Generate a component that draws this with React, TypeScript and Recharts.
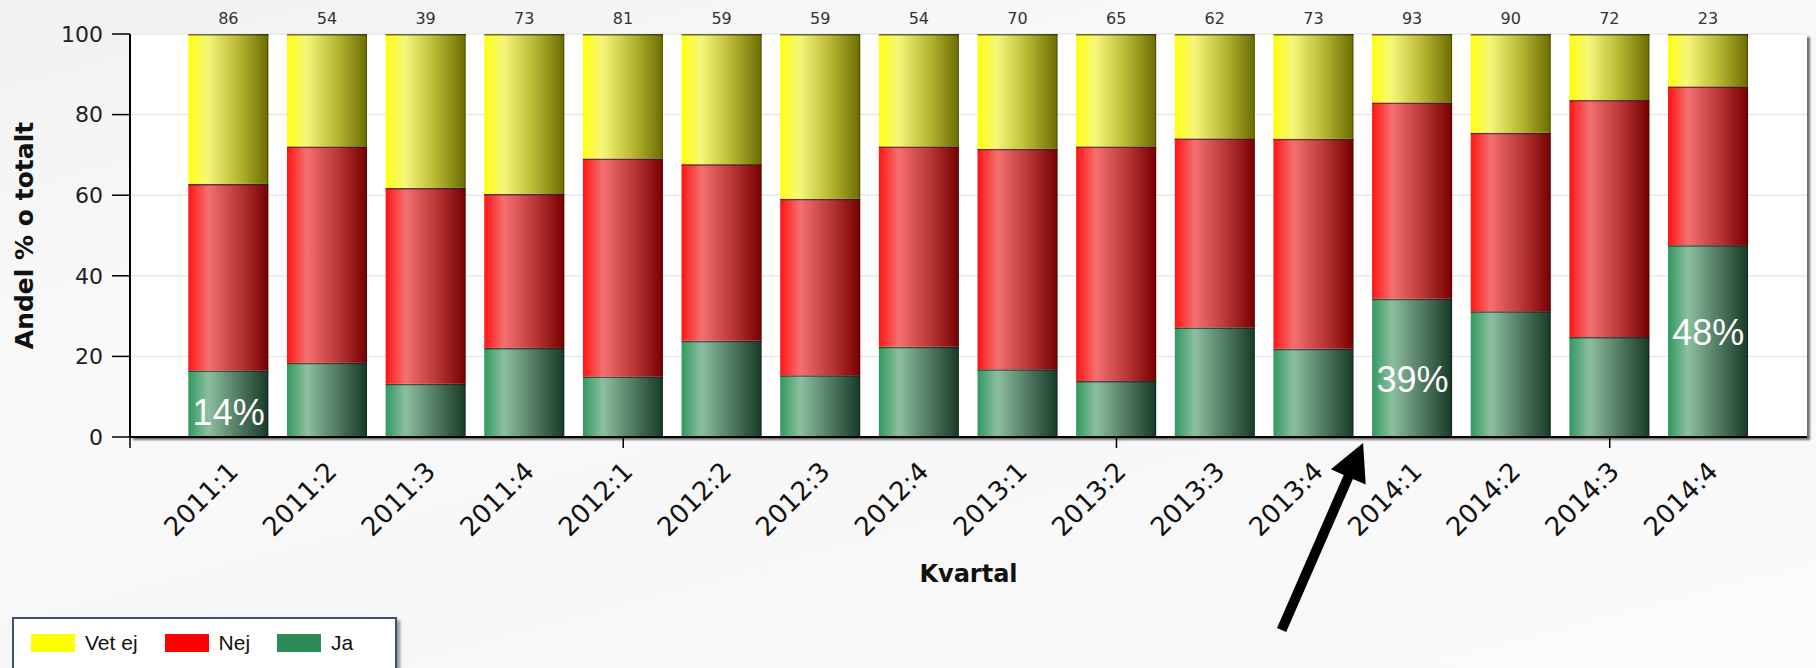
import React from 'react';
import { BarChart, Bar, XAxis, YAxis, CartesianGrid, LabelList, ReferenceDot, Label } from 'recharts';

// ---- data ----
const quarters = ['2011:1', '2011:2', '2011:3', '2011:4', '2012:1', '2012:2', '2012:3', '2012:4', '2013:1', '2013:2', '2013:3', '2013:4', '2014:1', '2014:2', '2014:3', '2014:4'];
const positions = [1, 2, 3, 4, 5, 6, 7, 8, 9, 10, 11, 12, 13, 14, 15, 16];
const jaValues = [16.5, 18.4, 13.2, 22.1, 15.0, 23.9, 15.3, 22.4, 16.8, 13.9, 27.2, 21.9, 34.3, 31.2, 24.8, 47.6];
const nejValues = [46.3, 53.7, 48.6, 38.2, 54.1, 43.8, 43.8, 49.7, 54.7, 58.2, 46.9, 52.1, 48.7, 44.3, 58.8, 39.4];
const vetEjValues = [37.2, 27.9, 38.2, 39.7, 30.9, 32.3, 40.9, 27.9, 28.5, 27.9, 25.9, 26.0, 17.0, 24.5, 16.4, 13.0];
const counts = [86, 54, 39, 73, 81, 59, 59, 54, 70, 65, 62, 73, 93, 90, 72, 23];
const yTicks = [0, 20, 40, 60, 80, 100];
const xTicks = [0, 1, 2, 3, 4, 5, 6, 7, 8, 9, 10, 11, 12, 13, 14, 15, 16];
const xDomain = [0, 17];
const annotationPos = [1, 13, 16];
const annotationText = ['14%', '39%', '48%'];
const annotationY = [2.9, 11.1, 22.8];
const arrowTarget = 12.5; // between 2013:4 and 2014:1
const seriesNames = ['Vet ej', 'Nej', 'Ja'];
const legendColors = ['#ffff00', '#ff0000', '#2e8b57'];

const data = quarters.map((q, i) => ({
  q,
  pos: positions[i],
  ja: jaValues[i],
  nej: nejValues[i],
  vet: vetEjValues[i],
  n: counts[i],
}));

const FONT = "'DejaVu Sans', Verdana, sans-serif";

const makeShape = (gradId: string) => (props: any) => {
  const { x, y, width, height } = props;
  if (!height || height <= 0) return <g />;
  return (
    <g>
      <rect x={x} y={y} width={width} height={height} fill={`url(#${gradId})`} />
      <line x1={x} x2={x + width} y1={y + 0.75} y2={y + 0.75} stroke="rgba(30,30,30,0.65)" strokeWidth={1.5} />
      <line x1={x + width - 0.5} x2={x + width - 0.5} y1={y} y2={y + height} stroke="rgba(0,0,0,0.3)" strokeWidth={1} />
    </g>
  );
};

const XTick = (props: any) => {
  const { x, y, payload } = props;
  const v = payload.value;
  return (
    <g>
      {v % 5 === 0 && <line x1={x} x2={x} y1={y} y2={y + 11} stroke="#000" strokeWidth={1.5} />}
      {v >= 1 && (
        <text
          transform={`translate(${x + 11},${y + 36}) rotate(-45)`}
          textAnchor="end"
          fontSize={26}
          fontFamily={FONT}
          fill="#111"
        >
          {quarters[v - 1]}
        </text>
      )}
    </g>
  );
};

const AnnotationShape = (text: string) => (props: any) => {
  const { cx, cy } = props;
  return (
    <text x={cx} y={cy} textAnchor="middle" fill="#fff" fontSize={36} fontFamily="'Liberation Sans', Arial, sans-serif">
      {text}
    </text>
  );
};

const ArrowShape = (props: any) => {
  const { cx, cy } = props;
  const tip = { x: cx, y: cy + 6 };
  const back = { x: -81.5, y: 187 };
  const len = Math.sqrt(back.x * back.x + back.y * back.y);
  const u = { x: -back.x / len, y: -back.y / len };
  const n = { x: -u.y, y: u.x };
  const headLen = 37;
  const headHalf = 19;
  const shaftHalf = 5;
  const base = { x: tip.x - u.x * headLen, y: tip.y - u.y * headLen };
  const tail = { x: tip.x + back.x, y: tip.y + back.y };
  const pts = [
    [tail.x + n.x * shaftHalf, tail.y + n.y * shaftHalf],
    [base.x + n.x * shaftHalf, base.y + n.y * shaftHalf],
    [base.x + n.x * headHalf, base.y + n.y * headHalf],
    [tip.x, tip.y],
    [base.x - n.x * headHalf, base.y - n.y * headHalf],
    [base.x - n.x * shaftHalf, base.y - n.y * shaftHalf],
    [tail.x - n.x * shaftHalf, tail.y - n.y * shaftHalf],
  ];
  return <polygon points={pts.map((p) => p.join(',')).join(' ')} fill="#000" />;
};

const YTitle = (props: any) => {
  const vb = props.viewBox || {};
  const cy = (vb.y ?? 34) + (vb.height ?? 403) / 2;
  return (
    <text transform={`translate(33,${cy}) rotate(-90)`} textAnchor="middle" fontSize={25} fontWeight="bold" fontFamily={FONT} fill="#111">
      Andel % o totalt
    </text>
  );
};

const XTitle = (props: any) => {
  const vb = props.viewBox || {};
  const cx = (vb.x ?? 130) + (vb.width ?? 1677) / 2;
  const y = (vb.y ?? 437) + 145;
  return (
    <text x={cx} y={y} textAnchor="middle" fontSize={24} fontWeight="bold" fontFamily={FONT} fill="#111">
      Kvartal
    </text>
  );
};

export default function App() {
  return (
    <div
      style={{
        position: 'relative',
        width: 1816,
        height: 668,
        overflow: 'hidden',
        background: 'linear-gradient(165deg, #f1f1f1 0%, #fafafa 35%, #f7f7f7 60%, #fbfbfb 100%)',
      }}
    >
      <style>{`body{margin:0;}`}</style>
      <div
        style={{
          position: 'absolute',
          left: 130,
          top: 34,
          width: 1677,
          height: 403,
          background: '#fff',
          boxShadow: '3px 3px 2px rgba(0,0,0,0.55)',
        }}
      />
      <div style={{ position: 'absolute', left: 0, top: 0 }}>
        <BarChart width={1816} height={668} data={data} margin={{ top: 34, right: 9, left: 20, bottom: 101 }}>
          <defs>
            <linearGradient id="gYellow" x1="0" y1="0" x2="1" y2="0">
              <stop offset="0%" stopColor="#ffff10" />
              <stop offset="24%" stopColor="#f6f67a" />
              <stop offset="60%" stopColor="#bcbc38" />
              <stop offset="100%" stopColor="#6c6c00" />
            </linearGradient>
            <linearGradient id="gRed" x1="0" y1="0" x2="1" y2="0">
              <stop offset="0%" stopColor="#ff1414" />
              <stop offset="25%" stopColor="#f47070" />
              <stop offset="60%" stopColor="#c03c3c" />
              <stop offset="100%" stopColor="#760000" />
            </linearGradient>
            <linearGradient id="gGreen" x1="0" y1="0" x2="1" y2="0">
              <stop offset="0%" stopColor="#329860" />
              <stop offset="25%" stopColor="#8cbf9f" />
              <stop offset="60%" stopColor="#557f66" />
              <stop offset="100%" stopColor="#173a27" />
            </linearGradient>
          </defs>
          <CartesianGrid vertical={false} stroke="#e8e8e8" strokeWidth={1.5} />
          <XAxis
            type="number"
            dataKey="pos"
            domain={xDomain}
            ticks={xTicks}
            interval={0}
            tickSize={0}
            tickMargin={0}
            tickLine={false}
            axisLine={{ stroke: '#000', strokeWidth: 2 }}
            tick={<XTick />}
            height={130}
            allowDataOverflow
          >
            <Label content={<XTitle />} />
          </XAxis>
          <YAxis
            domain={[0, 100]}
            ticks={yTicks}
            width={110}
            tickSize={18}
            tickMargin={9}
            axisLine={{ stroke: '#000', strokeWidth: 2 }}
            tickLine={{ stroke: '#000', strokeWidth: 1.5 }}
            tick={{ fontSize: 22, fill: '#222', fontFamily: FONT }}
          >
            <Label content={<YTitle />} />
          </YAxis>
          <Bar dataKey="ja" name="Ja" stackId="s" barSize={80} isAnimationActive={false} shape={makeShape('gGreen')} />
          <Bar dataKey="nej" name="Nej" stackId="s" barSize={80} isAnimationActive={false} shape={makeShape('gRed')} />
          <Bar dataKey="vet" name="Vet ej" stackId="s" barSize={80} isAnimationActive={false} shape={makeShape('gYellow')}>
            <LabelList dataKey="n" position="top" offset={10} fontSize={16} fill="#333" fontFamily={FONT} />
          </Bar>
          {annotationPos.map((p, i) => (
            <ReferenceDot key={i} x={p} y={annotationY[i]} r={0} ifOverflow="visible" shape={AnnotationShape(annotationText[i])} />
          ))}
          <ReferenceDot x={arrowTarget} y={0} r={0} ifOverflow="visible" shape={ArrowShape} />
        </BarChart>
      </div>
      <div
        style={{
          position: 'absolute',
          left: 12,
          top: 617,
          width: 385,
          height: 70,
          background: '#fff',
          border: '2px solid #3f5070',
          boxShadow: '3px 3px 3px rgba(0,0,0,0.4)',
          display: 'flex',
          alignItems: 'flex-start',
          paddingLeft: 17,
          paddingTop: 14,
          boxSizing: 'border-box',
          fontFamily: "'Liberation Sans', Arial, sans-serif",
          fontSize: 21,
          color: '#111',
        }}
      >
        {seriesNames.map((name, i) => (
          <div key={name} style={{ display: 'flex', alignItems: 'center', marginRight: 27 }}>
            <div style={{ width: 44, height: 18, background: legendColors[i], marginRight: 10 }} />
            <span style={{ lineHeight: '20px' }}>{name}</span>
          </div>
        ))}
      </div>
    </div>
  );
}
